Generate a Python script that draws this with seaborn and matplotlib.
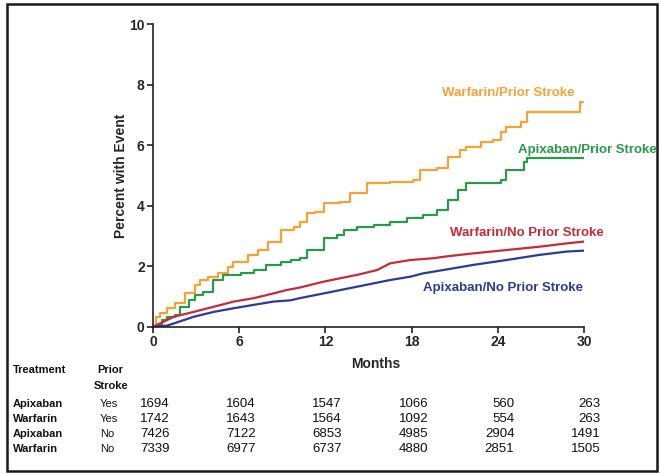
import matplotlib
matplotlib.use("Agg")
import matplotlib.pyplot as plt
import numpy as np
import pandas as pd
import seaborn as sns
from matplotlib.transforms import blended_transform_factory
from matplotlib.patches import Rectangle

# ---------------- data ----------------
groups = ["Warfarin/Prior Stroke", "Apixaban/Prior Stroke",
          "Warfarin/No Prior Stroke", "Apixaban/No Prior Stroke"]
colors = ["#F5A236", "#2A9A4A", "#C42B3B", "#2E3A96"]

months_warf_prior = [0, 0.2, 0.5, 1.0, 1.5, 2.2, 2.9, 3.3, 3.8, 4.5, 5.2, 5.6, 6.6, 7.3, 8.0,
                     8.9, 9.8, 10.2, 10.7, 11.3, 11.9, 13.0, 13.7, 14.9, 16.5, 18.1, 18.6,
                     19.8, 20.5, 21.4, 21.8, 22.8, 23.7, 24.2, 24.6, 25.6, 26.0, 29.7, 29.9]
pct_warf_prior = [0, 0.34, 0.45, 0.62, 0.78, 1.11, 1.39, 1.55, 1.66, 1.77, 1.99, 2.16, 2.38,
                  2.54, 2.82, 3.2, 3.31, 3.48, 3.75, 3.8, 4.08, 4.14, 4.41, 4.74, 4.8, 4.85,
                  5.18, 5.24, 5.62, 5.84, 5.95, 6.12, 6.17, 6.45, 6.61, 6.78, 7.1, 7.43, 7.43]

months_apix_prior = [0, 0.3, 0.6, 1.0, 1.5, 1.9, 2.5, 2.9, 3.5, 4.2, 4.9, 6.1, 7.0, 7.9, 8.9,
                     9.6, 10.2, 10.7, 11.9, 12.8, 13.3, 14.2, 15.4, 16.5, 17.7, 18.8, 19.8,
                     20.5, 21.2, 21.8, 24.2, 24.6, 25.8, 26.0, 30.0]
pct_apix_prior = [0, 0.07, 0.23, 0.34, 0.4, 0.67, 0.9, 1.06, 1.17, 1.55, 1.72, 1.77, 1.88,
                  2.05, 2.16, 2.21, 2.27, 2.54, 2.93, 3.04, 3.2, 3.31, 3.37, 3.48, 3.59, 3.7,
                  3.86, 4.19, 4.52, 4.74, 4.85, 5.18, 5.46, 5.57, 5.57]

months_warf_noprior = [0, 0.5, 1.46, 2.85, 4.24, 5.63, 7.0, 8.4, 9.3, 10.2, 11.9, 14.2, 15.6,
                       16.5, 17.9, 19.5, 20.6, 22.3, 24.6, 26.9, 28.8, 30.0]
pct_warf_noprior = [0, 0.12, 0.34, 0.5, 0.67, 0.84, 0.95, 1.11, 1.22, 1.3, 1.5, 1.72, 1.88,
                    2.1, 2.21, 2.27, 2.34, 2.43, 2.54, 2.65, 2.76, 2.82]

months_apix_noprior = [0, 1.0, 1.46, 2.85, 4.24, 5.63, 7.0, 8.4, 9.57, 10.2, 11.9, 14.2, 16.5,
                       17.9, 18.8, 20.2, 22.3, 24.6, 26.9, 28.8, 30.0]
pct_apix_noprior = [0, 0.05, 0.12, 0.34, 0.5, 0.62, 0.73, 0.84, 0.88, 0.95, 1.11, 1.33, 1.55,
                    1.66, 1.77, 1.88, 2.05, 2.21, 2.38, 2.49, 2.52]

x_ticks = [0, 6, 12, 18, 24, 30]
y_ticks = [0, 2, 4, 6, 8, 10]

table_treatment = ["Apixaban", "Warfarin", "Apixaban", "Warfarin"]
table_prior = ["Yes", "Yes", "No", "No"]
at_risk = [
    [1694, 1604, 1547, 1066, 560, 263],
    [1742, 1643, 1564, 1092, 554, 263],
    [7426, 7122, 6853, 4985, 2904, 1491],
    [7339, 6977, 6737, 4880, 2851, 1505],
]

# label anchors (month, percent)
label_pos = [(20.1, 7.72), (25.4, 5.84), (20.7, 3.1), (18.8, 1.3)]

# ---------------- build frame ----------------
series = [(months_warf_prior, pct_warf_prior), (months_apix_prior, pct_apix_prior),
          (months_warf_noprior, pct_warf_noprior), (months_apix_noprior, pct_apix_noprior)]
frames = []
for g, (m, p) in zip(groups, series):
    frames.append(pd.DataFrame({"Months": m, "Percent": p, "Group": g}))
df = pd.concat(frames, ignore_index=True)
pal = dict(zip(groups, colors))

sns.set_theme(style="white")
plt.rcParams["font.family"] = ["Liberation Sans", "DejaVu Sans"]
plt.rcParams["text.color"] = "#111111"

fig = plt.figure(figsize=(6.6, 4.74), dpi=100)
fig.patch.set_facecolor("white")
ax = fig.add_axes([153 / 660, 1 - 327 / 474, (584 - 153) / 660, (327 - 24) / 474])

# prior-stroke curves: visible staircase
sns.lineplot(data=df[df["Group"].isin(groups[:2])], x="Months", y="Percent", hue="Group",
             palette=pal, hue_order=groups[:2], estimator=None, sort=False,
             drawstyle="steps-post", linewidth=1.6, legend=False, ax=ax)
# no-prior-stroke curves: fine steps, drawn as near-smooth lines
sns.lineplot(data=df[df["Group"].isin(groups[2:])], x="Months", y="Percent", hue="Group",
             palette=pal, hue_order=groups[2:], estimator=None, sort=False,
             linewidth=1.6, legend=False, ax=ax)

ax.set_xlim(0, 30)
ax.set_ylim(0, 10)
ax.set_xticks(x_ticks)
ax.set_yticks(y_ticks)
ax.set_xticklabels([str(t) for t in x_ticks], fontweight="bold", fontsize=10)
ax.set_yticklabels([str(t) for t in y_ticks], fontweight="bold", fontsize=10)
ax.tick_params(axis="both", direction="out", length=4, width=1.2, color="#222222",
               pad=2, left=True, bottom=True)
for s in ["top", "right"]:
    ax.spines[s].set_visible(False)
for s in ["left", "bottom"]:
    ax.spines[s].set_color("#222222")
    ax.spines[s].set_linewidth(1.2)
ax.set_facecolor("white")

ax.set_ylabel("Percent with Event", fontweight="bold", fontsize=10)
ax.yaxis.set_label_coords(-0.058, 0.5)
ax.set_xlabel("Months", fontweight="bold", fontsize=10)
ax.xaxis.set_label_coords(0.517, -0.10)

for g, c, (lx, ly) in zip(groups, colors, label_pos):
    ax.text(lx, ly, g, color=c, fontweight="bold", fontsize=9.5, ha="left", va="center",
            clip_on=False)

# ---------------- at-risk table ----------------
tr = blended_transform_factory(ax.transData, fig.transFigure)
row_y = [1 - 404 / 474, 1 - 419 / 474, 1 - 434 / 474, 1 - 449 / 474]
fig.text(13 / 660, 1 - 370 / 474, "Treatment", fontweight="bold", fontsize=8, va="center")
fig.text(97 / 660, 1 - 370 / 474, "Prior", fontweight="bold", fontsize=8, va="center")
fig.text(94 / 660, 1 - 386 / 474, "Stroke", fontweight="bold", fontsize=8, va="center")
for i in range(4):
    fig.text(13 / 660, row_y[i], table_treatment[i], fontweight="bold", fontsize=8, va="center")
    fig.text(100 / 660, row_y[i], table_prior[i], fontsize=8, va="center")
    for t, v in zip(x_ticks, at_risk[i]):
        ax.text(t + 1.15, row_y[i], str(v), transform=tr, fontsize=9.5, ha="right",
                va="center", clip_on=False)

# figure border
fig.patches.append(Rectangle((7 / 660, 3 / 474), 650 / 660, 467 / 474, transform=fig.transFigure,
                             fill=False, edgecolor="#1a1a1a", linewidth=1.8))

fig.savefig("out.png", dpi=100)
